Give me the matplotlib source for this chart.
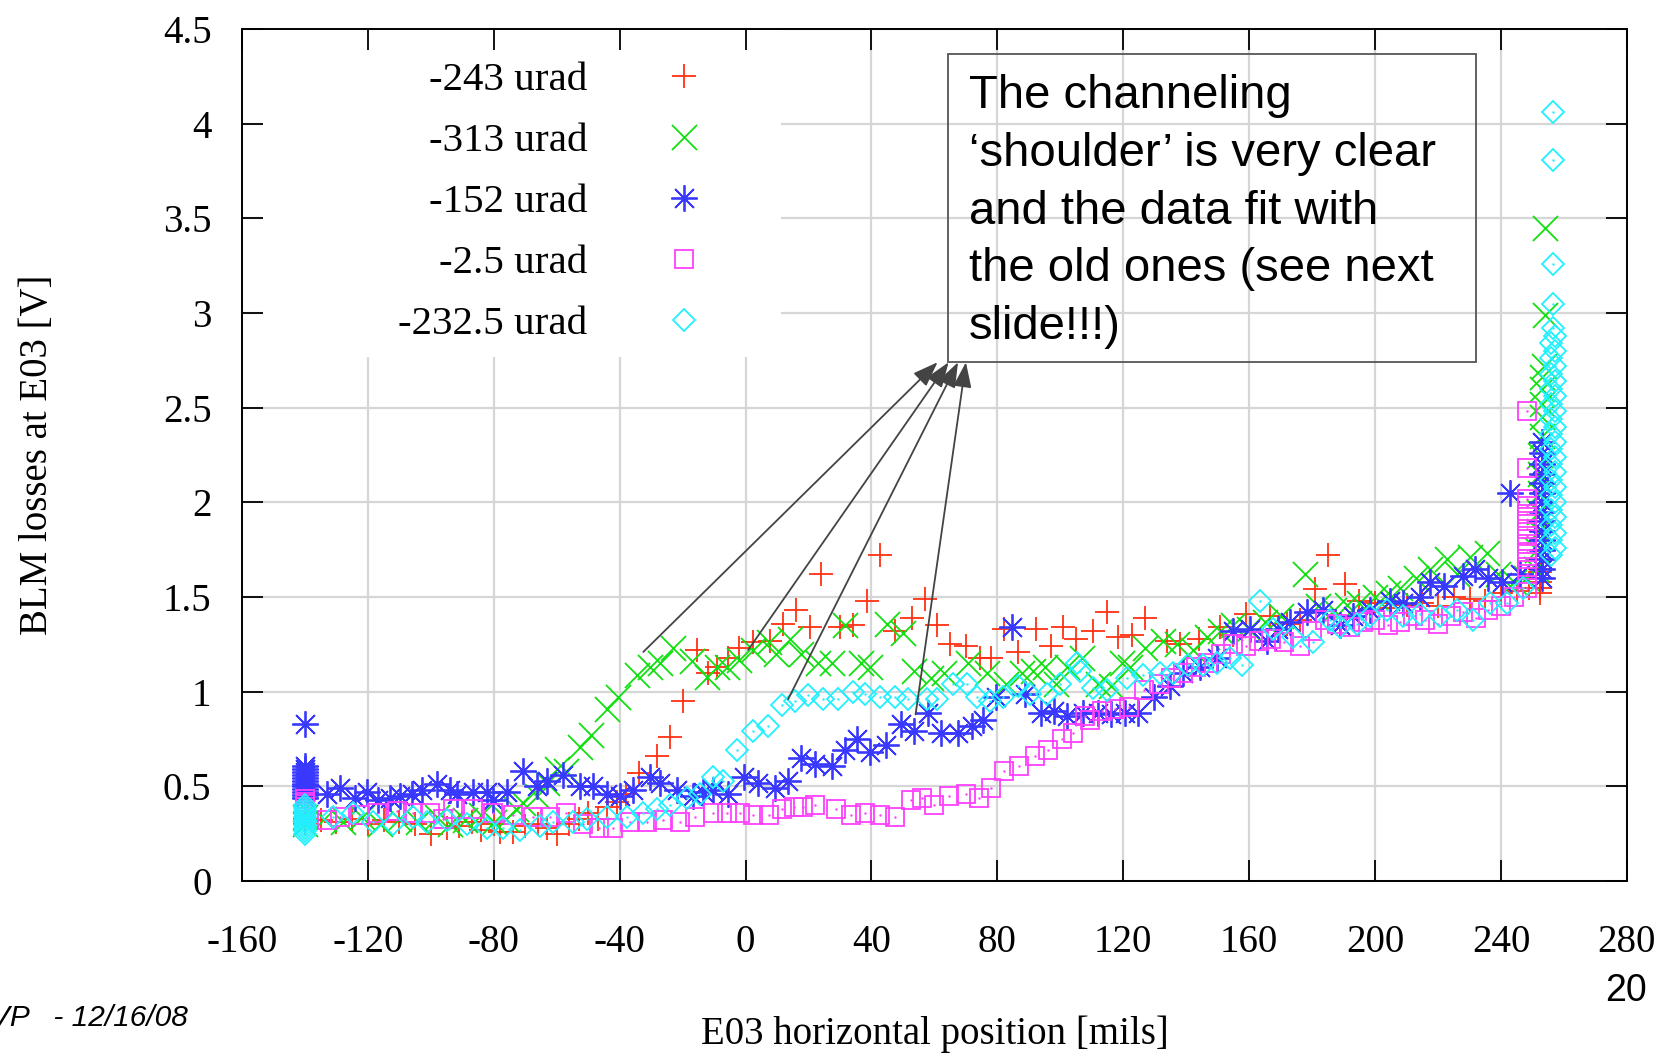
import numpy as np
import matplotlib
matplotlib.use("Agg")
import matplotlib.pyplot as plt
from matplotlib.patches import Rectangle

plt.rcParams['font.family'] = ['Liberation Serif', 'DejaVu Serif']

# ---- data (x in mils, BLM losses in V) ----
red_pts = [
    (-140, 0.30), (-140, 0.33), (-140, 0.36),
    (-135, 0.32), (-130, 0.31), (-125, 0.33), (-120, 0.30), (-115, 0.32), (-110, 0.31),
    (-105, 0.30), (-100, 0.25), (-95, 0.28), (-91, 0.29), (-87, 0.31), (-84, 0.27),
    (-80, 0.30), (-78, 0.26), (-74, 0.26), (-70, 0.29), (-66, 0.30), (-63, 0.28),
    (-60, 0.25), (-56, 0.30), (-53, 0.33), (-50, 0.36), (-47, 0.33), (-44, 0.39),
    (-41, 0.42), (-38, 0.46), (-34, 0.57), (-28, 0.66), (-24, 0.76), (-20, 0.95),
    (-15.5, 1.22), (-12, 1.10), (-9, 1.13), (-5.5, 1.18), (-2, 1.23), (2.4, 1.26),
    (7.7, 1.27), (12, 1.36), (16, 1.43), (20.5, 1.34), (24, 1.62), (30, 1.34),
    (34, 1.35), (38.5, 1.48), (42.7, 1.72), (47.5, 1.32), (52.8, 1.39), (57, 1.49),
    (60.7, 1.35), (65, 1.25), (70, 1.24), (74.5, 1.18), (78, 1.18), (82, 1.33),
    (86.6, 1.21), (92.4, 1.33), (97, 1.24), (101, 1.34), (105, 1.28), (110.5, 1.32),
    (114.7, 1.42), (118.4, 1.29), (122.7, 1.30), (127, 1.39), (134, 1.27), (138, 1.25),
    (144, 1.28), (150.7, 1.34), (155, 1.30), (159, 1.41), (166.6, 1.40), (172, 1.36),
    (176, 1.38), (181, 1.54), (185, 1.72), (190.4, 1.57), (195, 1.48), (200, 1.47),
    (205, 1.44), (210, 1.46), (215, 1.47), (220, 1.45), (225, 1.50), (230, 1.49),
    (235, 1.48), (240, 1.52), (245, 1.53), (249, 1.55),
    (252.5, 1.52), (252.5, 1.55), (252.5, 1.58), (252.5, 1.60), (252.5, 1.63), (252.5, 1.65),
]

green_pts = [
    (-140, 0.30), (-140, 0.34), (-140, 0.38),
    (-134, 0.33), (-128, 0.31), (-122, 0.34), (-116, 0.30), (-110, 0.33), (-104, 0.31),
    (-98, 0.34), (-94, 0.30), (-89, 0.32), (-84, 0.35), (-80, 0.31), (-76, 0.33),
    (-73, 0.38), (-70.6, 0.41), (-66.4, 0.45), (-63, 0.52), (-60, 0.59), (-57, 0.58),
    (-52.6, 0.71), (-49, 0.77), (-44, 0.91), (-40.4, 0.97), (-34.6, 1.09), (-30.4, 1.13),
    (-27.2, 1.15), (-23, 1.23), (-17, 1.16), (-12.4, 1.08), (-9.2, 1.13), (-6, 1.13),
    (-2, 1.17), (2.4, 1.22), (7.4, 1.26), (9.8, 1.20), (14, 1.28), (17.7, 1.20),
    (23, 1.15), (27.4, 1.15), (31.7, 1.35), (36.6, 1.15), (39.6, 1.13), (45, 1.36),
    (50, 1.31), (53.6, 1.11), (59, 1.07), (63, 1.10), (70.6, 1.15), (76.7, 1.10),
    (82.8, 1.04), (87.7, 1.10), (91.3, 1.11), (95, 1.13), (98.6, 1.04), (102, 1.13),
    (107, 1.18), (112, 1.04), (116, 1.03), (119.5, 1.15), (122, 1.13), (127, 1.23),
    (132.7, 1.27), (137, 1.25), (142, 1.22), (146.5, 1.29), (150.7, 1.32), (155, 1.35),
    (160, 1.33), (165, 1.37), (170, 1.40), (177.7, 1.62), (182, 1.45), (187, 1.43),
    (191, 1.46), (195, 1.47), (200, 1.50), (204, 1.52), (208, 1.55), (213, 1.60),
    (217.4, 1.65), (222.7, 1.70), (226, 1.62), (230, 1.71), (235.4, 1.73), (239, 1.62),
    (244, 1.58), (248, 1.60),
    (251, 1.65), (251.5, 1.75), (252, 1.85), (252, 1.95), (252.5, 2.05), (252.5, 2.15),
    (252.5, 2.25), (253, 2.35), (253, 2.45), (253, 2.52), (253, 2.60), (253, 2.66),
    (253.5, 2.72), (254, 2.99), (254, 3.45),
]

blue_pts = [
    (-140, 0.83), (-140, 0.44), (-140, 0.455), (-140, 0.47), (-140, 0.485), (-140, 0.50),
    (-140, 0.515), (-140, 0.53), (-140, 0.545), (-140, 0.56), (-140, 0.575), (-140, 0.59),
    (-140, 0.605),
    (-133, 0.46), (-129, 0.49), (-124, 0.44), (-120.4, 0.47), (-116.7, 0.43), (-113, 0.44),
    (-109.8, 0.45), (-106, 0.46), (-102.9, 0.48), (-98.1, 0.51), (-94, 0.48), (-91.8, 0.46),
    (-86.5, 0.47), (-82.3, 0.47), (-80.2, 0.43), (-75.9, 0.47), (-70.6, 0.58), (-66.4, 0.50),
    (-63.2, 0.53), (-57.9, 0.56), (-52.6, 0.50), (-48.4, 0.50), (-44.1, 0.46), (-40, 0.45),
    (-35.7, 0.48), (-30.4, 0.55), (-27.2, 0.52), (-21.9, 0.48), (-16.6, 0.45), (-13.4, 0.47),
    (-10.3, 0.48), (-5.5, 0.46), (-0.6, 0.55), (3.9, 0.52), (9.5, 0.49), (13.5, 0.53),
    (17.7, 0.65), (22, 0.62), (27.4, 0.61), (31.7, 0.69), (35.3, 0.75), (39.6, 0.68),
    (44.5, 0.72), (49.3, 0.83), (53.6, 0.79), (57.8, 0.89), (62.1, 0.78), (67.6, 0.78),
    (71.8, 0.82), (75.5, 0.85), (79.7, 0.97), (84.6, 1.34), (88.9, 0.99), (93.7, 0.89),
    (98, 0.90), (102.2, 0.87), (107.1, 0.89), (111.9, 0.89), (116.2, 0.88), (120.5, 0.89),
    (124.7, 0.89), (129.6, 0.97), (134.8, 1.03), (139.1, 1.10), (144.4, 1.13), (149.7, 1.18),
    (155, 1.32), (160.2, 1.33), (165.5, 1.27), (169, 1.33), (172.9, 1.37), (178.3, 1.42),
    (183.5, 1.43), (188.8, 1.35), (193, 1.40), (198.4, 1.43), (204.7, 1.48), (209, 1.47),
    (214.2, 1.50), (217.4, 1.58), (222, 1.56), (228, 1.61), (231.7, 1.65), (236, 1.60),
    (240.2, 1.58), (243, 2.05), (246, 1.62),
    (253, 1.60), (253, 1.65), (253, 1.70), (253, 1.75), (253, 1.80), (253, 1.85),
    (253, 1.90), (253, 1.95), (253, 2.00), (253, 2.05), (253, 2.10), (253, 2.15),
    (253, 2.20), (253, 2.26), (253, 2.32),
]

magenta_pts = [
    (-140, 0.36), (-140, 0.375), (-140, 0.39), (-140, 0.405), (-140, 0.42), (-140, 0.435),
    (-133, 0.32), (-129, 0.34), (-122.5, 0.35), (-117.2, 0.36), (-110.9, 0.37), (-105.6, 0.36),
    (-100.3, 0.36), (-96, 0.33), (-92.9, 0.38), (-86.5, 0.38), (-80.2, 0.36), (-73.8, 0.35),
    (-67.5, 0.34), (-62.2, 0.34), (-56.9, 0.36), (-51.6, 0.30), (-46.5, 0.28), (-42, 0.28),
    (-36.7, 0.31), (-31.4, 0.31), (-26.2, 0.32), (-20.8, 0.31), (-16.1, 0.34), (-10.3, 0.36),
    (-6, 0.36), (-1.8, 0.36), (2.4, 0.35), (7.4, 0.35), (11.6, 0.38), (15.3, 0.39),
    (18.3, 0.39), (22, 0.40), (28.7, 0.38), (33.5, 0.35), (37.8, 0.36), (42.7, 0.35),
    (47.5, 0.34), (52.4, 0.43), (56, 0.44), (59.7, 0.40), (64.5, 0.45), (70, 0.46),
    (74.3, 0.44), (77.9, 0.49), (82.2, 0.58), (87, 0.61), (91.9, 0.66), (96.2, 0.69),
    (100.4, 0.75), (104, 0.78), (107.8, 0.87), (109.5, 0.85), (113.2, 0.90), (117.4, 0.91),
    (121.7, 0.92), (126.5, 1.01), (131.4, 1.04), (135, 1.07), (139, 1.10), (143, 1.13),
    (147, 1.15), (151, 1.20), (155, 1.25), (159, 1.24), (163, 1.27), (167, 1.28),
    (171, 1.26), (176, 1.24), (180, 1.32), (184, 1.38), (188, 1.36), (192, 1.34),
    (196, 1.37), (200, 1.38), (204, 1.35), (208, 1.37), (212, 1.40), (216, 1.38),
    (220, 1.36), (224, 1.40), (228, 1.42), (232, 1.39), (236, 1.43), (240, 1.45), (244, 1.50),
    (248.4, 1.55), (248.4, 1.62), (248.4, 1.66), (248.4, 1.70), (248.4, 1.74), (248.4, 1.78),
    (248.4, 1.82), (248.4, 1.86), (248.4, 1.90), (248.4, 1.94), (248.4, 1.98), (248.4, 2.02),
    (248.4, 2.18), (248.4, 2.48),
]

cyan_pts = [
    (-140, 0.25), (-140, 0.265), (-140, 0.28), (-140, 0.295), (-140, 0.31), (-140, 0.325),
    (-140, 0.34), (-140, 0.355), (-140, 0.37), (-140, 0.385), (-140, 0.40),
    (-131, 0.34), (-124.6, 0.36), (-118.3, 0.31), (-111.9, 0.30), (-105.6, 0.34), (-101.3, 0.31),
    (-95, 0.32), (-88.6, 0.30), (-82.3, 0.28), (-77, 0.28), (-71.7, 0.27), (-65.3, 0.29),
    (-61.1, 0.31), (-54.7, 0.31), (-50.5, 0.33), (-44.1, 0.34), (-37.8, 0.34), (-32.5, 0.36),
    (-28.3, 0.38), (-24, 0.40), (-18.7, 0.44), (-14.5, 0.46), (-10.3, 0.55), (-7.1, 0.53),
    (-2.8, 0.69), (2.4, 0.79), (7.2, 0.82), (11.5, 0.93), (15.7, 0.95), (19.9, 0.98),
    (24.7, 0.96), (29.5, 0.96), (34.2, 1.00), (37.9, 0.99), (42.7, 0.97), (47.5, 0.97),
    (51.7, 0.96), (57.5, 0.96), (60.7, 0.96), (66, 1.04), (70.2, 1.04), (73.4, 0.97),
    (77.6, 0.95), (81.9, 0.97), (86.6, 1.03), (90.3, 0.99), (95.6, 0.99), (99.9, 1.04),
    (105.2, 1.15), (106.4, 1.11), (110.5, 1.02), (114.7, 1.01), (121.1, 1.07), (126.4, 1.09),
    (131.7, 1.10), (135.9, 1.10), (140.7, 1.14), (145.4, 1.14), (149.7, 1.15), (153.9, 1.18),
    (157.6, 1.14), (163.4, 1.48), (167.6, 1.33), (174, 1.29), (180.4, 1.26), (185.7, 1.38),
    (188.8, 1.34), (194.1, 1.36), (198.4, 1.40), (203.7, 1.43), (209, 1.40), (214.2, 1.41),
    (220.6, 1.40), (225.9, 1.43), (231.2, 1.38), (236.5, 1.47), (241.8, 1.47), (247, 1.55),
    (256, 1.72), (257, 1.76), (256, 1.80), (257, 1.84), (256, 1.88), (257, 1.92),
    (256, 1.96), (257, 2.00), (256, 2.04), (257, 2.08), (256, 2.12), (257, 2.16),
    (256, 2.20), (257, 2.24), (256, 2.28), (257, 2.32), (256, 2.36), (257, 2.40),
    (256, 2.44), (257, 2.48), (256, 2.52), (257, 2.56), (256, 2.60), (257, 2.64),
    (256, 2.68), (257, 2.72), (256, 2.76), (257, 2.80), (256, 2.84), (257, 2.88),
    (256.5, 2.92), (256.5, 3.05), (256.5, 3.26), (256.5, 3.81), (256.5, 4.06),
]

series_labels = ["-243 urad", "-313 urad", "-152 urad", "-2.5 urad", "-232.5 urad"]
x_ticks = [-160, -120, -80, -40, 0, 40, 80, 120, 160, 200, 240, 280]
y_ticks = [0, 0.5, 1, 1.5, 2, 2.5, 3, 3.5, 4, 4.5]
y_tick_labels = ["0", "0.5", "1", "1.5", "2", "2.5", "3", "3.5", "4", "4.5"]

# arrows: start (on the data) -> tip (below the note box)
arrow_starts = [(-32.5, 1.21), (0.8, 1.22), (13.5, 0.96), (54, 0.88)]
arrow_tips = [(61, 2.74), (64.5, 2.74), (67.5, 2.74), (70, 2.74)]

note = ("The channeling\n\u2018shoulder\u2019 is very clear\nand the data fit with\n"
        "the old ones (see next\nslide!!!)")

# ---- styles ----
styles = [
    dict(color='#ff3010', marker='+', ms=17),
    dict(color='#10e010', marker='x', ms=18),
    dict(color='#3838ff', marker=(8, 2, 0), ms=19),
    dict(color='#ff40ff', marker='s', ms=13.5),
    dict(color='#20f0ff', marker='D', ms=11),
]

fig = plt.figure(figsize=(16.7, 10.54), dpi=100)
pos = [0.1449, 0.1641, 0.8293, 0.8084]

# grid lives on its own axes underneath, so the key patch can hide it
ax_grid = fig.add_axes(pos)
ax_grid.set_xlim(-160, 280)
ax_grid.set_ylim(0, 4.5)
ax_grid.set_xticks(x_ticks)
ax_grid.set_yticks(y_ticks)
ax_grid.grid(True, color='#d6d6d6', lw=1.6)
ax_grid.tick_params(length=0, labelbottom=False, labelleft=False)
for s in ax_grid.spines.values():
    s.set_visible(False)

ax = fig.add_axes(pos)
ax.set_facecolor('none')
ax.set_xlim(-160, 280)
ax.set_ylim(0, 4.5)

handles = []
for pts, st, lab in zip([red_pts, green_pts, blue_pts, magenta_pts, cyan_pts], styles, series_labels):
    arr = np.array(pts)
    h, = ax.plot(arr[:, 0], arr[:, 1], linestyle='none', marker=st['marker'], ms=st['ms'],
                 mec=st['color'], mfc='none', mew=1.3, label=lab, zorder=3)
    handles.append(h)
    if st['marker'] in ('s', 'D'):
        ax.plot(arr[:, 0], arr[:, 1], linestyle='none', marker='.', ms=1.5,
                color=st['color'], zorder=3)

# white key box (covers grid, not ticks)
ax.add_patch(Rectangle((0.0152, 0.615), 0.374, 0.385, transform=ax.transAxes,
                       facecolor='white', edgecolor='none', zorder=1))
leg = ax.legend(handles=handles, loc='upper right', bbox_to_anchor=(0.3336, 0.962),
                markerfirst=False, frameon=False, prop={'family': 'Liberation Serif', 'size': 29.5},
                handlelength=1.0, handletextpad=1.85, labelspacing=0.57, borderpad=0,
                borderaxespad=0, numpoints=1)
leg.set_zorder(5)

# note box with arrows
ax.add_patch(Rectangle((0.5097, 0.609), 0.3813, 0.3617, transform=ax.transAxes,
                       facecolor='none', edgecolor='#555555', lw=1.3, zorder=4))
ax.text(0.525, 0.947, note, transform=ax.transAxes, ha='left', va='top',
        family='Liberation Sans', fontsize=34, linespacing=1.405, zorder=5)
for (x0, y0), (x1, y1) in zip(arrow_starts, arrow_tips):
    ax.annotate('', xy=(x1, y1), xytext=(x0, y0),
                arrowprops=dict(arrowstyle='-|>,head_length=0.55,head_width=0.2',
                                color='#444444', lw=1.3, mutation_scale=28,
                                shrinkA=0, shrinkB=0), zorder=4)

ax.set_xticks(x_ticks)
ax.set_xticklabels([str(t) for t in x_ticks])
ax.set_yticks(y_ticks)
ax.set_yticklabels(y_tick_labels)
ax.tick_params(direction='in', length=15, width=1.3, top=True, right=True, labelsize=28)
ax.tick_params(axis='x', pad=31)
ax.tick_params(axis='y', pad=22)
for s in ax.spines.values():
    s.set_linewidth(1.4)

ax.set_xlabel("E03 horizontal position [mils]", fontsize=28)
ax.set_ylabel("BLM losses at E03 [V]", fontsize=28)
ax.xaxis.set_label_coords(0.5, -0.1575)
ax.yaxis.set_label_coords(-0.134, 0.5)

fig.text(0.9737, 0.060, "20", family='Liberation Sans', fontsize=27, ha='center', va='center')
fig.text(-0.006, 0.034, "VP   - 12/16/08", family='Liberation Sans', style='italic',
         fontsize=21.5, ha='left', va='center')

fig.savefig("out.png", dpi=100)
